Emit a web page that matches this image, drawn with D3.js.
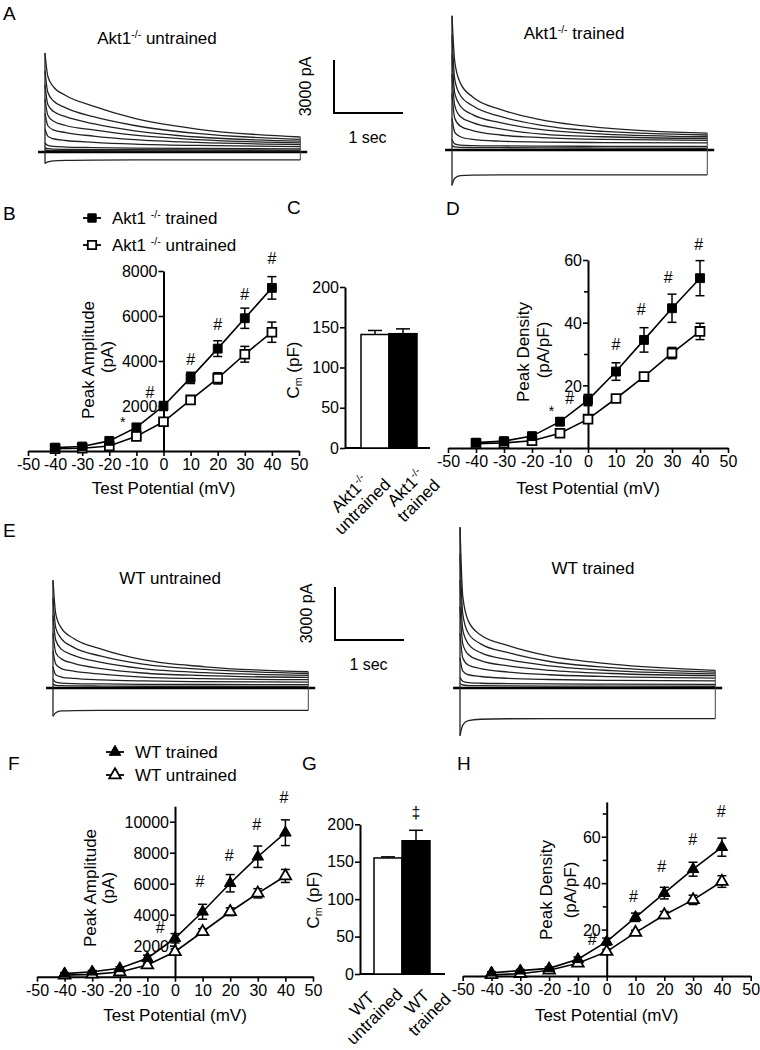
<!DOCTYPE html>
<html><head><meta charset="utf-8">
<script src="https://cdn.jsdelivr.net/npm/d3@7"></script>
<style>
body{margin:0;background:#fff;}
svg{display:block;font-family:'Liberation Sans',Arial,sans-serif;}
</style></head><body>
<svg id="fig" width="760" height="1050"></svg>
<script>
// ---------------- DATA ----------------
const potentials = [-40,-30,-20,-10,0,10,20,30,40];
const xTickValues = [-50,-40,-30,-20,-10,0,10,20,30,40,50];

// B: Akt1-/- peak amplitude (pA)
const akt1TrainedAmp      = [150, 200, 450, 1050, 2000, 3250, 4550, 5900, 7250];
const akt1TrainedAmpErr   = [60, 60, 80, 150, 200, 250, 350, 450, 500];
const akt1UntrainedAmp    = [100, 120, 220, 650, 1300, 2270, 3230, 4300, 5280];
const akt1UntrainedAmpErr = [40, 40, 60, 100, 150, 120, 250, 350, 450];
const akt1AmpTicks = [2000, 4000, 6000, 8000];
const akt1AmpMarks = [[-15,1450,'*'],[-5,2600,'#'],[10,4050,'#'],[20,5600,'#'],[30,6950,'#'],[40,8550,'#']];

// D: Akt1-/- peak density (pA/pF)
const akt1TrainedDen      = [1.7, 2.2, 3.8, 8.4, 15.3, 24.4, 34.5, 44.6, 54.2];
const akt1TrainedDenErr   = [0.5, 0.5, 0.8, 1.2, 1.8, 2.8, 3.9, 4.5, 5.6];
const akt1UntrainedDen    = [1.4, 1.6, 2.3, 4.7, 9.2, 15.8, 22.8, 30.3, 37.2];
const akt1UntrainedDenErr = [0.4, 0.4, 0.5, 0.8, 1.2, 1.0, 1.2, 1.8, 2.6];
const akt1DenTicks = [20, 40, 60];
const akt1DenMinor = [10, 30, 50];
const akt1DenMarks = [[-13,13,'*'],[-6.5,15.7,'#'],[10,32.9,'#'],[19,44,'#'],[28.6,54.3,'#'],[39.5,64.9,'#']];

// C: membrane capacitance (pF)
const akt1Cm = [141, 142];
const akt1CmErr = [5, 6];
// G
const wtCm = [155, 178];
const wtCmErr = [1.5, 14];
const cmTicks = [0, 50, 100, 150, 200];

// F: WT peak amplitude (pA)
const wtTrainedAmp      = [200, 320, 540, 1190, 2480, 4190, 6030, 7740, 9290];
const wtTrainedAmpErr   = [60, 80, 100, 200, 300, 480, 560, 690, 830];
const wtUntrainedAmp    = [100, 150, 300, 750, 1610, 2900, 4190, 5380, 6500];
const wtUntrainedAmpErr = [40, 50, 80, 120, 180, 200, 250, 300, 420];
const wtAmpTicks = [2000, 4000, 6000, 8000, 10000];
const wtAmpMarks = [[-5.4,3150,'#'],[9,6130,'#'],[19.6,7790,'#'],[29.6,9790,'#'],[39.5,11550,'#']];

// H: WT peak density (pA/pF)
const wtTrainedDen      = [1.4, 2.3, 3.3, 7.2, 14.8, 25.3, 35.7, 46, 55.5];
const wtTrainedDenErr   = [0.4, 0.5, 0.6, 1.0, 1.5, 1.8, 2.5, 3.0, 3.9];
const wtUntrainedDen    = [0.5, 1.0, 2.5, 5.5, 10.5, 18.7, 26.3, 32.8, 40.7];
const wtUntrainedDenErr = [0.3, 0.3, 0.4, 0.8, 1.0, 1.0, 1.5, 2.0, 2.5];
const wtDenTicks = [20, 40, 60];
const wtDenMinor = [10, 30, 50, 70];
const wtDenMarks = [[-5,15.5,'#'],[9.3,34.2,'#'],[19.1,47.1,'#'],[29.9,58.6,'#'],[39.8,70.8,'#']];

// Current traces (pA), sampled at these times (s)
const traceTimes = [0, 0.04, 0.12, 0.3, 0.7, 1.3, 2.2, 3.7];
const akt1UntrainedTraces = [
  [5600, 4300, 3700, 3200, 2600, 1900, 1300, 850],
  [4600, 3400, 2900, 2500, 2000, 1500, 1050, 720],
  [3800, 2700, 2300, 2000, 1600, 1200, 850, 620],
  [3000, 2100, 1750, 1500, 1250, 950, 700, 520],
  [2200, 1500, 1250, 1100, 900, 700, 540, 420],
  [1300, 900, 750, 650, 550, 450, 370, 300],
  [500, 380, 320, 280, 250, 220, 200, 180],
  [250, 190, 160, 150, 140, 130, 120, 110],
  [120, 90, 80, 75, 70, 65, 60, 60],
  [-650, -560, -500, -470, -455, -450, -450, -450]
];
const akt1TrainedTraces = [
  [7600, 5000, 3800, 3000, 2300, 1700, 1250, 950],
  [6500, 4000, 3100, 2500, 1900, 1400, 1050, 850],
  [5400, 3200, 2500, 2000, 1550, 1150, 900, 750],
  [4300, 2500, 1900, 1550, 1200, 900, 750, 650],
  [3200, 1800, 1350, 1100, 850, 700, 600, 550],
  [1800, 1000, 750, 600, 500, 450, 420, 400],
  [600, 350, 280, 250, 230, 220, 210, 200],
  [250, 180, 150, 140, 130, 120, 110, 100],
  [-2000, -1600, -1450, -1420, -1410, -1410, -1410, -1410]
];
const wtUntrainedTraces = [
  [6100, 4200, 3400, 2800, 2200, 1600, 1200, 920],
  [5100, 3400, 2800, 2300, 1800, 1350, 1050, 820],
  [4100, 2700, 2200, 1850, 1450, 1100, 870, 720],
  [3100, 2000, 1650, 1400, 1100, 850, 700, 600],
  [2100, 1350, 1100, 950, 780, 620, 530, 470],
  [1200, 750, 620, 540, 460, 400, 360, 330],
  [500, 330, 280, 250, 230, 210, 200, 190],
  [200, 150, 130, 120, 110, 100, 100, 90],
  [-1600, -1400, -1300, -1280, -1270, -1270, -1270, -1270]
];
const wtTrainedTraces = [
  [9100, 5200, 3800, 3000, 2400, 1800, 1350, 1000],
  [7600, 4200, 3100, 2500, 2000, 1500, 1150, 900],
  [6100, 3300, 2500, 2000, 1600, 1250, 980, 800],
  [4600, 2500, 1900, 1550, 1250, 1000, 820, 700],
  [3100, 1700, 1300, 1100, 900, 750, 640, 560],
  [1700, 950, 750, 650, 550, 480, 430, 400],
  [600, 380, 300, 270, 250, 230, 220, 210],
  [250, 170, 140, 130, 120, 110, 105, 100],
  [-2700, -2100, -1850, -1770, -1740, -1730, -1730, -1730]
];

// ---------------- DRAWING ----------------
const svg = d3.select('#fig');
const FS = 16;
const plainNum = d => String(d);

function rich(g, x, y, parts, size, anchor, extra) {
  const t = g.append('text').attr('x', x).attr('y', y).attr('font-size', size)
    .attr('text-anchor', anchor || 'start').attr('fill', '#000');
  if (extra) extra(t);
  let shift = 0;
  parts.forEach(p => {
    const target = p.sup ? -size * 0.38 : p.sub ? size * 0.28 : 0;
    const ts = t.append('tspan').text(p.t).attr('dy', target - shift);
    shift = target;
    if (p.sup || p.sub) ts.attr('font-size', size * 0.62);
  });
  return t;
}

function panelLabel(txt, x, y) {
  svg.append('text').attr('x', x).attr('y', y).attr('font-size', 19).text(txt);
}

function styleAxis(a) {
  a.select('.domain').attr('stroke', '#000').attr('stroke-width', 2);
  a.selectAll('.tick line').attr('stroke', '#000').attr('stroke-width', 1.6);
  a.selectAll('.tick text').attr('font-size', FS).attr('fill', '#000')
    .attr('font-family', "'Liberation Sans',Arial,sans-serif");
}

function ivPanel(cfg) {
  const g = svg.append('g');
  const x = d3.scaleLinear().domain([-50, 50]).range(cfg.xr);
  const y = d3.scaleLinear().domain(cfg.yDomain).range(cfg.yr);
  const xa = g.append('g').attr('transform', `translate(0,${y(0)})`)
    .call(d3.axisBottom(x).tickValues(xTickValues).tickSize(5).tickSizeOuter(0).tickPadding(3).tickFormat(plainNum));
  styleAxis(xa);
  const ya = g.append('g').attr('transform', `translate(${x(0)},0)`)
    .call(d3.axisLeft(y).tickValues(cfg.yTicks).tickSize(5).tickSizeOuter(0).tickPadding(1).tickFormat(plainNum));
  styleAxis(ya);
  ya.selectAll('.tick text').attr('dy', '0.36em');
  if (cfg.minor) {
    const m = g.append('g').attr('transform', `translate(${x(0)},0)`)
      .call(d3.axisLeft(y).tickValues(cfg.minor).tickSize(4).tickSizeOuter(0).tickFormat(''));
    m.select('.domain').remove();
    m.selectAll('.tick line').attr('stroke', '#000').attr('stroke-width', 1.6);
  }
  const series = [
    {v: cfg.untrained, e: cfg.untrainedErr, filled: false},
    {v: cfg.trained, e: cfg.trainedErr, filled: true}
  ];
  const line = d3.line().x((d, i) => x(potentials[i])).y(d => y(d));
  series.forEach(s => {
    g.append('path').attr('d', line(s.v)).attr('fill', 'none').attr('stroke', '#000').attr('stroke-width', 1.6);
  });
  const sym = d3.symbol().type(cfg.shape === 'tri' ? d3.symbolTriangle : d3.symbolSquare)
    .size(cfg.shape === 'tri' ? 58 : 78);
  series.forEach(s => {
    s.v.forEach((v, i) => {
      const cx = x(potentials[i]);
      const y1 = y(v + s.e[i]), y2 = y(v - s.e[i]);
      g.append('line').attr('x1', cx).attr('x2', cx).attr('y1', y1).attr('y2', y2).attr('stroke', '#000').attr('stroke-width', 1.5);
      [y1, y2].forEach(yy => g.append('line').attr('x1', cx - 4.5).attr('x2', cx + 4.5).attr('y1', yy).attr('y2', yy).attr('stroke', '#000').attr('stroke-width', 1.5));
    });
  });
  series.forEach(s => {
    s.v.forEach((v, i) => {
      g.append('path').attr('d', sym()).attr('transform', `translate(${x(potentials[i])},${y(v)})`)
        .attr('fill', s.filled ? '#000' : '#fff').attr('stroke', '#000').attr('stroke-width', s.filled ? 1 : 1.8);
    });
  });
  cfg.marks.forEach(([mx, my, s]) => {
    g.append('text').attr('x', x(mx)).attr('y', y(my) + (s === '*' ? 9 : 5)).attr('text-anchor', 'middle')
      .attr('font-size', s === '*' ? 14 : 16).text(s);
  });
  // axis titles
  g.append('text').attr('x', x(0)).attr('y', cfg.xTitleY).attr('text-anchor', 'middle').attr('font-size', 17).text('Test Potential (mV)');
  cfg.yTitle.forEach(([txt, cx, cy]) => {
    g.append('text').attr('transform', `translate(${cx},${cy}) rotate(-90)`).attr('text-anchor', 'middle')
      .attr('dominant-baseline', 'central').attr('font-size', 17).text(txt);
  });
}

function barPanel(cfg) {
  const g = svg.append('g');
  const y = d3.scaleLinear().domain([0, 200]).range(cfg.yr);
  const x = d3.scaleBand().domain([0, 1]).range(cfg.br).padding(0);
  const ya = g.append('g').attr('transform', `translate(${cfg.axisX},0)`)
    .call(d3.axisLeft(y).tickValues(cmTicks).tickSize(5).tickSizeOuter(0).tickPadding(1).tickFormat(plainNum));
  styleAxis(ya);
  g.append('line').attr('x1', cfg.axisX).attr('x2', cfg.xEnd).attr('y1', y(0)).attr('y2', y(0)).attr('stroke', '#000').attr('stroke-width', 2);
  cfg.values.forEach((v, i) => {
    const cx = x(i) + x.bandwidth() / 2;
    g.append('line').attr('x1', cx).attr('x2', cx).attr('y1', y(v)).attr('y2', y(v + cfg.errs[i])).attr('stroke', '#000').attr('stroke-width', 1.5);
    g.append('line').attr('x1', cx - 7).attr('x2', cx + 7).attr('y1', y(v + cfg.errs[i])).attr('y2', y(v + cfg.errs[i])).attr('stroke', '#000').attr('stroke-width', 1.5);
    g.append('rect').attr('x', x(i)).attr('y', y(v)).attr('width', x.bandwidth()).attr('height', y(0) - y(v))
      .attr('fill', i === 0 ? '#fff' : '#000').attr('stroke', '#000').attr('stroke-width', 1.5);
  });
  if (cfg.mark) {
    const [i, mv, s] = cfg.mark;
    g.append('text').attr('x', x(i) + x.bandwidth() / 2).attr('y', y(mv) + 6).attr('text-anchor', 'middle').attr('font-size', 16).text(s);
  }
  // y title C_m (pF)
  rich(g, 0, 0, [{t: 'C'}, {t: 'm', sub: true}, {t: ' (pF)'}], 17, 'middle',
    t => t.attr('x', null).attr('y', null).attr('transform', `translate(${cfg.yTitle[0]},${cfg.yTitle[1]}) rotate(-90)`).attr('dominant-baseline', 'central'));
  // category labels
  cfg.cats.forEach((lines, i) => {
    const [lx, ly] = cfg.catPos[i];
    const lg = g.append('g').attr('transform', `translate(${lx},${ly}) rotate(-45)`);
    lines.forEach((parts, j) => {
      rich(lg, 0, (j - (lines.length - 1) / 2) * 18 + 6, parts, 17, 'middle');
    });
  });
}

function tracePanel(cfg) {
  const g = svg.append('g');
  const x = d3.scaleLinear().domain([0, 1]).range([cfg.x0, cfg.x0 + 69]);
  const y = d3.scaleLinear().domain([0, 3000]).range([cfg.base, cfg.base - 53]);
  const tr = cfg.traces;
  const line = d3.line().x((d, i) => x(traceTimes[i])).y(d => y(d)).curve(d3.curveMonotoneX);
  // baseline (holding current)
  g.append('line').attr('x1', x(-0.1)).attr('x2', x(3.8)).attr('y1', y(0)).attr('y2', y(0)).attr('stroke', '#000').attr('stroke-width', 2.6);
  tr.forEach(d => g.append('path').attr('d', line(d)).attr('fill', 'none').attr('stroke', '#222').attr('stroke-width', 1.3));
  const peaks = tr.map(d => d[0]), ends = tr.map(d => d[d.length - 1]);
  const tEnd = traceTimes[traceTimes.length - 1];
  g.append('line').attr('x1', x(0)).attr('x2', x(0)).attr('y1', y(d3.min(peaks))).attr('y2', y(d3.max(peaks))).attr('stroke', '#222').attr('stroke-width', 1.3);
  g.append('line').attr('x1', x(tEnd)).attr('x2', x(tEnd)).attr('y1', y(d3.min(ends))).attr('y2', y(d3.max(ends))).attr('stroke', '#444').attr('stroke-width', 1);
  rich(g, cfg.title[1], cfg.title[2], cfg.title[0], 17, 'middle');
  if (cfg.bar) {
    const [bx, by] = cfg.bar;
    const h = y(0) - y(3000), w = x(1) - x(0);
    g.append('path').attr('d', `M${bx},${by - h}V${by}H${bx + w}`).attr('fill', 'none').attr('stroke', '#000').attr('stroke-width', 2);
    g.append('text').attr('transform', `translate(${bx - 29},${by - h / 2}) rotate(-90)`).attr('text-anchor', 'middle')
      .attr('dominant-baseline', 'central').attr('font-size', 16).text('3000 pA');
    g.append('text').attr('x', bx + w / 2 - 1).attr('y', by + 30).attr('text-anchor', 'middle').attr('font-size', 16).text('1 sec');
  }
}

function legend(items, x0, rows, shape) {
  const g = svg.append('g');
  const sym = d3.symbol().type(shape === 'tri' ? d3.symbolTriangle : d3.symbolSquare).size(shape === 'tri' ? 58 : 70);
  items.forEach((it, i) => {
    const yy = rows[i];
    g.append('line').attr('x1', x0 - 9).attr('x2', x0 + 9).attr('y1', yy).attr('y2', yy).attr('stroke', '#000').attr('stroke-width', 1.8);
    g.append('path').attr('d', sym()).attr('transform', `translate(${x0},${yy})`)
      .attr('fill', it.filled ? '#000' : '#fff').attr('stroke', '#000').attr('stroke-width', it.filled ? 1 : 1.8);
    rich(g, x0 + 20, yy + 6, it.parts, 17, 'start');
  });
}

// ----- Panel A -----
panelLabel('A', 3, 20);
tracePanel({x0: 45, base: 152, traces: akt1UntrainedTraces,
  title: [[{t: 'Akt1'}, {t: '-/-', sup: true}, {t: ' untrained'}], 157, 44], bar: [334, 113]});
tracePanel({x0: 452, base: 150, traces: akt1TrainedTraces,
  title: [[{t: 'Akt1'}, {t: '-/-', sup: true}, {t: ' trained'}], 574, 39]});

// ----- Panel B -----
panelLabel('B', 3, 220);
legend([
  {filled: true, parts: [{t: 'Akt1 '}, {t: '-/-', sup: true}, {t: ' trained'}]},
  {filled: false, parts: [{t: 'Akt1 '}, {t: '-/-', sup: true}, {t: ' untrained'}]}
], 92, [218, 245], 'sq');
ivPanel({xr: [28, 299], yDomain: [0, 8000], yr: [451, 271], yTicks: akt1AmpTicks,
  trained: akt1TrainedAmp, trainedErr: akt1TrainedAmpErr, untrained: akt1UntrainedAmp, untrainedErr: akt1UntrainedAmpErr,
  shape: 'sq', marks: akt1AmpMarks, xTitleY: 494, yTitle: [['Peak Amplitude', 88, 360], ['(pA)', 107, 357]]});

// ----- Panel C -----
panelLabel('C', 287, 214);
barPanel({yr: [448, 287], br: [361, 417], axisX: 345, xEnd: 430, values: akt1Cm, errs: akt1CmErr,
  yTitle: [293, 370],
  cats: [[[{t: 'Akt1'}, {t: '-/-', sup: true}], [{t: 'untrained'}]], [[{t: 'Akt1'}, {t: '-/-', sup: true}], [{t: 'trained'}]]],
  catPos: [[356, 500], [412, 494]]});

// ----- Panel D -----
panelLabel('D', 446, 215);
ivPanel({xr: [448, 728], yDomain: [0, 60], yr: [448, 260], yTicks: akt1DenTicks, minor: akt1DenMinor,
  trained: akt1TrainedDen, trainedErr: akt1TrainedDenErr, untrained: akt1UntrainedDen, untrainedErr: akt1UntrainedDenErr,
  shape: 'sq', marks: akt1DenMarks, xTitleY: 494, yTitle: [['Peak Density', 523, 352], ['(pA/pF)', 543, 350]]});

// ----- Panel E -----
panelLabel('E', 3, 537);
tracePanel({x0: 53, base: 688, traces: wtUntrainedTraces,
  title: [[{t: 'WT untrained'}], 170, 584], bar: [335, 640]});
tracePanel({x0: 460, base: 688, traces: wtTrainedTraces,
  title: [[{t: 'WT trained'}], 593, 574]});

// ----- Panel F -----
panelLabel('F', 8, 770);
legend([
  {filled: true, parts: [{t: 'WT trained'}]},
  {filled: false, parts: [{t: 'WT untrained'}]}
], 115, [752, 775], 'tri');
ivPanel({xr: [37, 313], yDomain: [0, 11000], yr: [976.7, 806.2], yTicks: wtAmpTicks,
  trained: wtTrainedAmp, trainedErr: wtTrainedAmpErr, untrained: wtUntrainedAmp, untrainedErr: wtUntrainedAmpErr,
  shape: 'tri', marks: wtAmpMarks, xTitleY: 1021, yTitle: [['Peak Amplitude', 90, 888], ['(pA)', 108, 888]]});

// ----- Panel G -----
panelLabel('G', 302, 770);
barPanel({yr: [974, 824.3], br: [374, 430], axisX: 360, xEnd: 445, values: wtCm, errs: wtCmErr,
  mark: [1, 216.7, '\u2021'], yTitle: [313, 900],
  cats: [[[{t: 'WT'}], [{t: 'untrained'}]], [[{t: 'WT'}], [{t: 'trained'}]]],
  catPos: [[368, 1010], [423, 1008]]});

// ----- Panel H -----
panelLabel('H', 457, 770);
ivPanel({xr: [462.7, 750.7], yDomain: [0, 75], yr: [976, 801.9], yTicks: wtDenTicks, minor: wtDenMinor,
  trained: wtTrainedDen, trainedErr: wtTrainedDenErr, untrained: wtUntrainedDen, untrainedErr: wtUntrainedDenErr,
  shape: 'tri', marks: wtDenMarks, xTitleY: 1021, yTitle: [['Peak Density', 546.7, 890], ['(pA/pF)', 570, 890]]});
</script>
</body></html>
